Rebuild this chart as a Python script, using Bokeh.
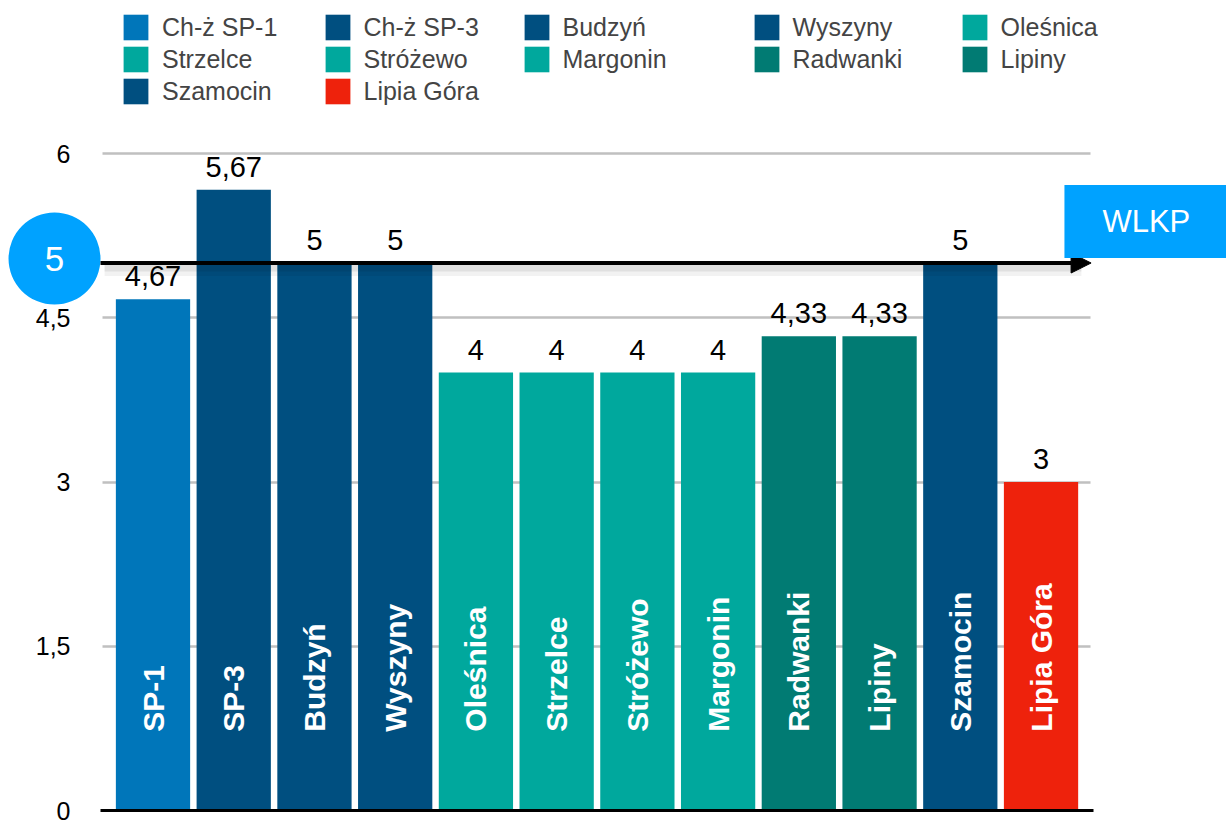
import numpy as np
from bokeh.plotting import figure
from bokeh.models import (ColumnDataSource, Range1d, FixedTicker, CustomJSTickFormatter,
                          Legend, LegendItem, Label, Arrow, NormalHead, LinearAxis, Grid)
from bokeh.transform import dodge
from bokeh.core.properties import value
from bokeh.embed import file_html
from bokeh.resources import INLINE

# ---------------- data ----------------
LEGEND_NAMES = ["Ch-ż SP-1", "Ch-ż SP-3", "Budzyń", "Wyszyny", "Oleśnica",
                "Strzelce", "Stróżewo", "Margonin", "Radwanki", "Lipiny",
                "Szamocin", "Lipia Góra"]
BAR_LABELS = ["SP-1", "SP-3", "Budzyń", "Wyszyny", "Oleśnica", "Strzelce",
              "Stróżewo", "Margonin", "Radwanki", "Lipiny", "Szamocin", "Lipia Góra"]
VALUES = [4.67, 5.67, 5, 5, 4, 4, 4, 4, 4.33, 4.33, 5, 3]
COLORS = ["#0076BA", "#004F80", "#004F80", "#004F80", "#00A89D", "#00A89D",
          "#00A89D", "#00A89D", "#017B73", "#017B73", "#004F80", "#EE220C"]
Y_TICKS = [0, 1.5, 3, 4.5, 6]
REFERENCE_VALUE = 5
REFERENCE_NAME = "WLKP"

# ---------------- layout / styling ----------------
FONT = "Liberation Sans"
ACCENT = "#00A2FF"
W, H = 1226, 821
PX_X, PX_Y = 80.73, 109.5          # pixels per data unit
X0_PX, Y0_PX = 152.5, 810          # screen position of first bar centre / zero line
X_START = -X0_PX / PX_X
X_END = X_START + W / PX_X
Y_START = -(H - Y0_PX) / PX_Y
Y_END = Y0_PX / PX_Y
PLOT_X0, PLOT_X1 = -0.65, 11.65     # extent of the value area
IN_BAR_Y = 0.72
VALUE_LABEL_LIFT = 0.21
BADGE_X, BADGE_Y = -1.22, REFERENCE_VALUE + 0.04

src = ColumnDataSource(dict(
    x=list(range(len(VALUES))),
    value=VALUES,
    color=COLORS,
    label=BAR_LABELS,
    value_text=[("%g" % v).replace(".", ",") for v in VALUES],
))

p = figure(width=W, height=H, output_backend="svg", toolbar_location=None,
           title=None, x_range=Range1d(X_START, X_END), y_range=Range1d(Y_START, Y_END),
           x_axis_location=None, y_axis_location=None,
           min_border_left=0, min_border_right=0, min_border_top=0, min_border_bottom=0)
p.outline_line_color = None
p.background_fill_color = "white"
p.border_fill_color = "white"
for g in p.grid:
    g.visible = False

# horizontal grid lines
grid_kw = dict(dimension=1, ticker=FixedTicker(ticks=Y_TICKS),
               grid_line_color="#C0C0C0", grid_line_width=2.5)
if "cross_bounds" in Grid.properties():
    p.add_layout(Grid(cross_bounds=(-0.625, 11.61), **grid_kw))
else:
    p.segment(x0=-0.625, x1=11.61, y0=Y_TICKS, y1=Y_TICKS,
              line_color="#C0C0C0", line_width=2.5, level="underlay")

# y axis (fixed at the left edge of the value area)
yax = LinearAxis(fixed_location=PLOT_X0, ticker=FixedTicker(ticks=Y_TICKS),
                 formatter=CustomJSTickFormatter(code="return String(tick).replace('.', ',');"))
yax.axis_line_color = None
yax.major_tick_line_color = None
yax.minor_tick_line_color = None
yax.major_tick_out = 0
yax.major_tick_in = 0
yax.major_label_standoff = 30
yax.major_label_text_font = FONT
yax.major_label_text_font_size = "25px"
yax.major_label_text_color = "black"
p.add_layout(yax, "left")

# x axis: just the black base line
xax = LinearAxis(fixed_location=0, bounds=(PLOT_X0, PLOT_X1), ticker=FixedTicker(ticks=[]))
xax.axis_line_color = "black"
xax.axis_line_width = 3
xax.major_tick_line_color = None
xax.minor_tick_line_color = None
xax.major_label_text_font_size = "0px"
p.add_layout(xax, "below")

bars = p.vbar(x="x", top="value", bottom=0, width=0.92, fill_color="color",
              line_color=None, source=src)

p.text(x="x", y=dodge("value", VALUE_LABEL_LIFT, range=p.y_range), text="value_text",
       source=src, text_align="center", text_baseline="alphabetic",
       text_font=value(FONT), text_font_size="29px", text_color="black")

p.text(x="x", y=IN_BAR_Y, text="label", source=src, angle=np.pi / 2,
       text_align="left", text_baseline="middle", text_font=value(FONT),
       text_font_style="bold", text_font_size="30px", text_color="white")

# reference line with soft shadow
for k, (off, w, a) in enumerate([(7, 12, 0.05), (5, 7, 0.07)]):
    p.add_layout(Arrow(x_start=PLOT_X0 + 0.05, y_start=REFERENCE_VALUE - off / PX_Y,
                       x_end=11.5, y_end=REFERENCE_VALUE - off / PX_Y,
                       line_color="black", line_alpha=a, line_width=w, end=None))
p.add_layout(Arrow(x_start=PLOT_X0, y_start=REFERENCE_VALUE, x_end=11.62,
                   y_end=REFERENCE_VALUE, line_color="black", line_width=4,
                   end=NormalHead(size=20, fill_color="black", line_color="black",
                                  line_width=1)))

# badge with the reference value
p.scatter(x=[BADGE_X], y=[BADGE_Y], size=92, marker="circle", fill_color=ACCENT,
          line_color=None)
p.text(x=[BADGE_X], y=[BADGE_Y], text=[str(REFERENCE_VALUE)], text_align="center",
       text_baseline="middle", text_font=value(FONT), text_font_size="35px",
       text_color="white")

# reference name box
p.add_layout(Label(x=11.29, y=5.38, text=REFERENCE_NAME, text_color="white",
                   text_font=FONT, text_font_size="31px", anchor="center_left",
                   text_baseline="middle", background_fill_color=ACCENT,
                   padding=dict(left=38, right=60, top=19, bottom=19)))

# legend: five columns, row-major order
col_x = [120, 321.5, 520.5, 750.5, 958.5]
n = len(LEGEND_NAMES)
for c in range(5):
    idx = list(range(c, n, 5))
    items = [LegendItem(label=value(LEGEND_NAMES[i]), renderers=[bars], index=i) for i in idx]
    ly = H - 11 - 32 * len(idx)
    leg = Legend(items=items, location=(col_x[c], ly), orientation="vertical",
                 glyph_width=31, glyph_height=32, label_height=32, spacing=0,
                 padding=0, margin=0, border_line_color=None,
                 background_fill_alpha=0, label_text_font=FONT,
                 label_text_font_size="25px", label_standoff=11)
    p.add_layout(leg, "center")

open("out.html", "w", encoding="utf-8").write(file_html(p, INLINE))
